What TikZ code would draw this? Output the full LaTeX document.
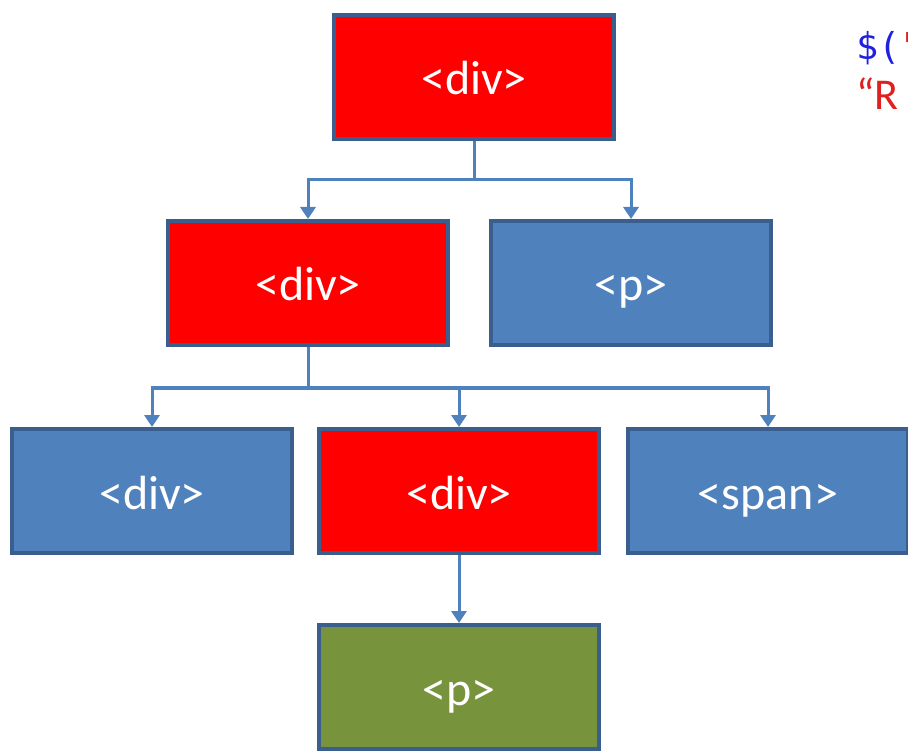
\documentclass[tikz,border=0pt]{standalone}
\usepackage{fontspec}
\setmainfont{Carlito}
\newfontfamily\codefont{DejaVu Sans Mono}
\usetikzlibrary{arrows.meta}
\definecolor{selred}{HTML}{FF0000}
\definecolor{boxblue}{HTML}{4F81BD}
\definecolor{boxline}{HTML}{3A5F8E}
\definecolor{boxgreen}{HTML}{77933C}
\definecolor{codeblue}{HTML}{2020E0}
\definecolor{strred}{HTML}{E02020}
\tikzset{
  elem/.style={draw=boxline, line width=4pt, minimum width=280pt, minimum height=124pt,
    inner sep=0pt, text=white, text height=40pt, text depth=4pt,
    font=\fontsize{48}{52}\selectfont},
  hit/.style={elem, fill=selred},
  plain/.style={elem, fill=boxblue},
  found/.style={elem, fill=boxgreen},
  link/.style={draw=boxblue, line width=3pt},
  linkarrow/.style={link, -{Triangle[length=12pt,width=15pt]}}
}
\begin{document}
\begin{tikzpicture}[x=1pt,y=-1pt]
\useasboundingbox (0,0) rectangle (908,751);
\clip (0,0) rectangle (908,751);
% tree of elements
\node[hit]   (root) at (474,77)  {<div>};
\node[hit]   (d1)   at (308,283) {<div>};
\node[plain] (p1)   at (631,283) {<p>};
\node[plain] (d2)   at (152,491) {<div>};
\node[hit]   (d3)   at (459,491) {<div>};
\node[plain] (s1)   at (768,491) {<span>};
\node[found] (p2)   at (459,687) {<p>};
% branch points
\coordinate (j1) at (474,180);
\coordinate (j2) at (308,388);
\draw[link] (root.south) -- (j1);
\draw[linkarrow] (j1) -| (d1.north);
\draw[linkarrow] (j1) -| (p1.north);
\draw[link] (d1.south) -- (j2);
\draw[linkarrow] (j2) -| (d2.north);
\draw[linkarrow] (j2) -| (d3.north);
\draw[linkarrow] (j2) -| (s1.north);
\draw[linkarrow] (d3.south) -- (p2.north);
% query text on the right
\node[anchor=base west, inner sep=0pt, font=\codefont\fontsize{37}{40}\selectfont] (q1) at (856,60) {\textcolor{codeblue}{\$(}\textcolor{strred}{"}};
\node[anchor=base west, inner sep=0pt, text=strred, font=\fontsize{44}{48}\selectfont] (q2) at (856,110) {“R};
\end{tikzpicture}
\end{document}
